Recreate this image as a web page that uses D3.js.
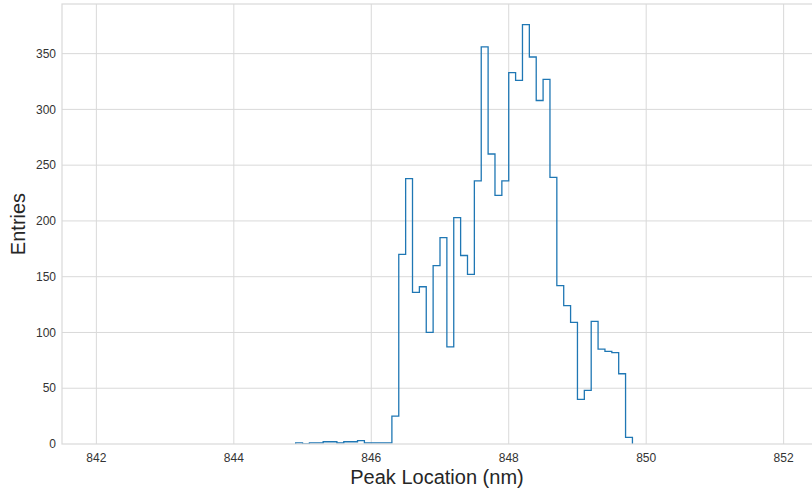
<!DOCTYPE html>
<html>
<head>
<meta charset="utf-8">
<script src="https://cdn.jsdelivr.net/npm/d3@7"></script>
<style>
  body { margin: 0; background: #fff; }
  svg { display: block; font-family: "Liberation Sans", Arial, sans-serif; }
</style>
</head>
<body>
<div id="chart"></div>
<script>
// histogram of peak locations, 0.1 nm bins starting at 844.9
var binStart = 844.9;
var binWidth = 0.1;
var counts = [
    1, 0, 1, 1, 2, 2, 1, 2, 2, 3,
    1, 1, 1, 1, 25, 170, 238, 136, 141, 100,
    160, 185, 87, 203, 169, 152, 236, 356, 260, 223,
    236, 333, 326, 376, 347, 308, 327, 239, 142, 124,
    109, 40, 48, 110, 85, 83, 82, 63, 6
];
var xTicks = [842, 844, 846, 848, 850, 852];
var yTicks = [0, 50, 100, 150, 200, 250, 300, 350];

var width = 812, height = 491;
var margin = { top: 4, left: 62, bottom: 47, right: -6 };
var gridColor = "#d9d9d9";

var svg = d3.select("#chart").append("svg")
    .attr("width", width)
    .attr("height", height);

var x = d3.scaleLinear()
    .domain([841.5, 852.5])
    .range([margin.left, width - margin.right]);

var y = d3.scaleLinear()
    .domain([0, 394.5])
    .range([height - margin.bottom, margin.top]);

svg.append("clipPath").attr("id", "plot-clip")
    .append("rect")
    .attr("x", margin.left)
    .attr("y", margin.top)
    .attr("width", width - margin.right - margin.left)
    .attr("height", y(0) - margin.top);

// grid lines
var grid = svg.append("g");
grid.selectAll("line.v")
    .data(xTicks)
    .enter().append("line")
    .attr("class", "v")
    .attr("x1", d => x(d)).attr("x2", d => x(d))
    .attr("y1", y.range()[1]).attr("y2", y.range()[0])
    .attr("stroke", gridColor);

grid.selectAll("line.h")
    .data(yTicks.slice(1))
    .enter().append("line")
    .attr("class", "h")
    .attr("x1", x.range()[0]).attr("x2", x.range()[1])
    .attr("y1", d => y(d)).attr("y2", d => y(d))
    .attr("stroke", gridColor);

// step outline of the histogram
var pts = [[binStart, 0]];
counts.forEach(function(c, i){
    var lo = binStart + i * binWidth, hi = lo + binWidth;
    pts.push([lo, c]);
    pts.push([hi, c]);
});
pts.push([binStart + counts.length * binWidth, 0]);

var line = d3.line()
    .x(d => x(d[0]))
    .y(d => y(d[1]));

svg.append("path")
    .datum(pts)
    .attr("d", line)
    .attr("clip-path", "url(#plot-clip)")
    .attr("fill", "none")
    .attr("stroke", "#1f77b4")
    .attr("stroke-width", 1.3)
    .attr("stroke-linejoin", "miter");

// frame drawn on top like matplotlib spines
svg.append("rect")
    .attr("x", x.range()[0])
    .attr("y", y.range()[1])
    .attr("width", x.range()[1] - x.range()[0])
    .attr("height", y.range()[0] - y.range()[1])
    .attr("fill", "none")
    .attr("stroke", gridColor)
    .attr("stroke-width", 1.2);

// tick labels
svg.append("g").selectAll("text")
    .data(xTicks)
    .enter().append("text")
    .attr("x", d => x(d))
    .attr("y", y(0) + 18)
    .attr("text-anchor", "middle")
    .attr("font-size", 12)
    .attr("fill", "#333")
    .text(d => d);

svg.append("g").selectAll("text")
    .data(yTicks)
    .enter().append("text")
    .attr("x", margin.left - 6)
    .attr("y", d => y(d))
    .attr("dy", "0.35em")
    .attr("text-anchor", "end")
    .attr("font-size", 12)
    .attr("fill", "#333")
    .text(d => d);

// axis titles
svg.append("text")
    .attr("x", 437)
    .attr("y", 484)
    .attr("text-anchor", "middle")
    .attr("font-size", 20)
    .attr("fill", "#262626")
    .text("Peak Location (nm)");

svg.append("text")
    .attr("transform", "translate(25," + ((y.range()[0] + y.range()[1]) / 2) + ") rotate(-90)")
    .attr("text-anchor", "middle")
    .attr("font-size", 20)
    .attr("fill", "#262626")
    .text("Entries");
</script>
</body>
</html>
